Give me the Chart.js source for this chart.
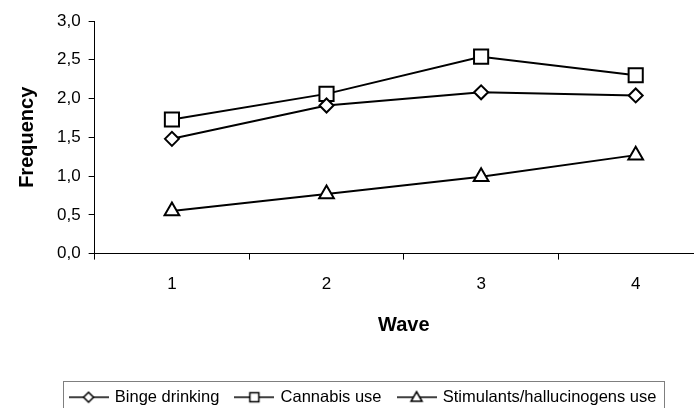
<!DOCTYPE html>
<html>
<head>
<meta charset="utf-8">
<title>Frequency by wave</title>
<script src="https://cdn.jsdelivr.net/npm/chart.js@4.4.1/dist/chart.umd.min.js"></script>
<style>
    html, body {
        margin: 0;
        padding: 0;
        background: #fff;
        overflow: hidden;
    }
</style>
</head>
<body>
<canvas id="myChart" width="728" height="420"></canvas>
<script>
"use strict";

// Data
const waves = ['1', '2', '3', '4'];
const seriesNames = ['Binge drinking', 'Cannabis use', 'Stimulants/hallucinogens use'];
const bingeDrinking = [1.48, 1.91, 2.08, 2.04];
const cannabisUse = [1.73, 2.06, 2.54, 2.30];
const stimulantsUse = [0.55, 0.77, 0.99, 1.27];
const yTickLabels = ['0,0', '0,5', '1,0', '1,5', '2,0', '2,5', '3,0'];

Chart.defaults.font.family = '"Liberation Sans", Arial, sans-serif';
Chart.defaults.color = '#000';

// Small picture for the legend: a line with the marker in the middle
function legendSymbol(shape) {
    const c = document.createElement('canvas');
    c.width = 40;
    c.height = 20;
    const ctx = c.getContext('2d');
    ctx.strokeStyle = '#000';
    ctx.lineWidth = 1.5;
    ctx.beginPath();
    ctx.moveTo(0, 10);
    ctx.lineTo(40, 10);
    ctx.stroke();

    ctx.beginPath();
    if (shape === 'rectRot') {
        ctx.moveTo(15, 10);
        ctx.lineTo(20, 5);
        ctx.lineTo(25, 10);
        ctx.lineTo(20, 15);
    } else if (shape === 'rect') {
        ctx.rect(15.5, 5.5, 9, 9);
    } else {
        ctx.moveTo(20, 4.5);
        ctx.lineTo(25.5, 14);
        ctx.lineTo(14.5, 14);
    }
    ctx.closePath();
    ctx.fillStyle = '#fff';
    ctx.fill();
    ctx.stroke();
    return c;
}

// Grey frame round the legend items
const legendFrame = {
    id: 'legendFrame',
    afterDraw(chart) {
        const boxes = chart.legend.legendHitBoxes;
        if (!boxes || !boxes.length) return;
        const first = boxes[0];
        const last = boxes[boxes.length - 1];
        const ctx = chart.ctx;
        ctx.save();
        ctx.strokeStyle = '#7f7f7f';
        ctx.lineWidth = 1;
        ctx.strokeRect(Math.round(first.left - 8) + 0.5, Math.round(first.top - 8) + 0.5,
            Math.round(last.left + last.width + 7 - (first.left - 8)), 34);
        ctx.restore();
    }
};

const shapes = ['rectRot', 'rect', 'triangle'];
const radii = [7, 10, 8.5];
const values = [bingeDrinking, cannabisUse, stimulantsUse];

const datasets = seriesNames.map((name, i) => ({
    label: name,
    data: values[i],
    borderColor: '#000',
    borderWidth: 2,
    tension: 0,
    pointStyle: shapes[i],
    pointRadius: radii[i],
    pointHoverRadius: radii[i],
    pointBackgroundColor: '#fff',
    pointBorderColor: '#000',
    pointBorderWidth: 2
}));

new Chart(document.getElementById('myChart'), {
    type: 'line',
    data: {
        labels: waves,
        datasets: datasets
    },
    options: {
        responsive: false,
        animation: false,
        layout: {
            padding: { top: 21, left: 14, right: 15, bottom: 4.5 }
        },
        plugins: {
            tooltip: { enabled: false },
            legend: {
                position: 'bottom',
                labels: {
                    usePointStyle: true,
                    pointStyleWidth: 36,
                    padding: 17,
                    font: { size: 16.5 },
                    generateLabels(chart) {
                        return chart.data.datasets.map((ds, i) => ({
                            text: ds.label,
                            pointStyle: legendSymbol(shapes[i]),
                            fillStyle: '#fff',
                            strokeStyle: '#000',
                            lineWidth: 0,
                            fontColor: '#000',
                            datasetIndex: i
                        }));
                    }
                }
            }
        },
        scales: {
            x: {
                offset: true,
                grid: {
                    offset: true,
                    drawOnChartArea: false,
                    tickLength: 6,
                    tickColor: '#000'
                },
                border: { color: '#000', width: 1 },
                ticks: { padding: 14.5, font: { size: 17 } },
                title: {
                    display: true,
                    text: 'Wave',
                    font: { size: 20, weight: 'bold' },
                    padding: { top: 4, bottom: 35 }
                }
            },
            y: {
                min: 0,
                max: 3,
                grid: {
                    drawOnChartArea: false,
                    tickLength: 6,
                    tickColor: '#000'
                },
                border: { color: '#000', width: 1 },
                ticks: {
                    stepSize: 0.5,
                    padding: 8,
                    font: { size: 17 },
                    callback: (value, index) => yTickLabels[index]
                },
                title: {
                    display: true,
                    text: 'Frequency',
                    font: { size: 20, weight: 'bold' },
                    padding: { top: 1, bottom: 10 }
                }
            }
        }
    },
    plugins: [legendFrame]
});
</script>
</body>
</html>
